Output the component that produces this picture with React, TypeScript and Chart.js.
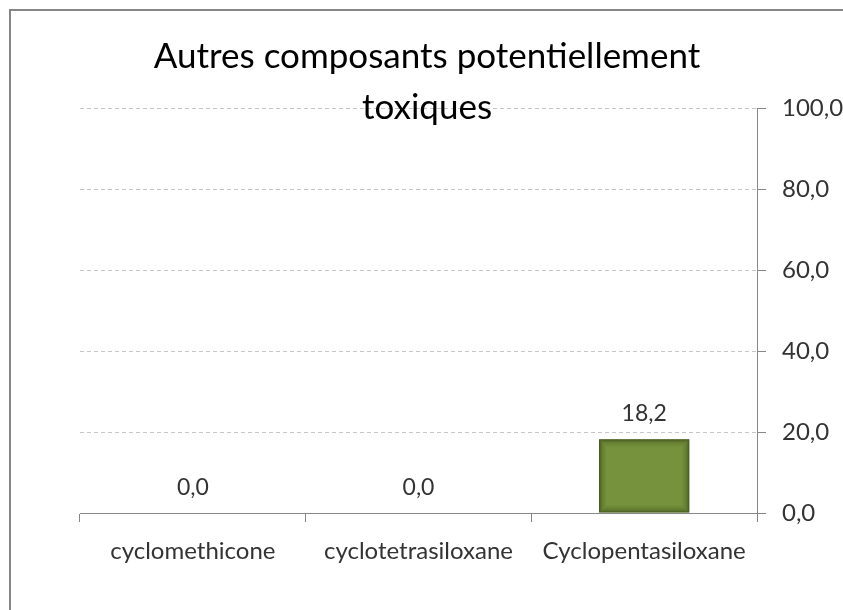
import React, { useEffect, useRef } from 'react';
import { Chart, registerables } from 'chart.js';

Chart.register(...registerables);

const categories = ['cyclomethicone', 'cyclotetrasiloxane', 'Cyclopentasiloxane'];
const values = [0.0, 0.0, 18.2];
const yMin = 0;
const yMax = 100;
const yStep = 20;
const titleLines = ['Autres composants potentiellement', 'toxiques'];

const FONT = 'Lato, "Open Sans", sans-serif';
const fmt = (v: number) => v.toFixed(1).replace('.', ',');

const titlePlugin = {
  id: 'overlayTitle',
  afterDraw(chart: any) {
    const ctx = chart.ctx;
    ctx.save();
    ctx.fillStyle = '#000';
    ctx.font = `35px ${FONT}`;
    ctx.textAlign = 'center';
    ctx.textBaseline = 'alphabetic';
    const cx = chart.width / 2;
    ctx.fillText(titleLines[0], cx, 57);
    ctx.fillText(titleLines[1], cx, 108);
    ctx.restore();
  },
};

const barDecorPlugin = {
  id: 'barDecor',
  afterDatasetsDraw(chart: any) {
    const ctx = chart.ctx;
    const meta = chart.getDatasetMeta(0);
    ctx.save();
    meta.data.forEach((bar: any, i: number) => {
      const { x, y, base, width } = bar.getProps(['x', 'y', 'base', 'width'], true);
      const left = x - width / 2;
      const top = Math.min(y, base);
      const h = Math.abs(base - y);
      if (h > 2) {
        for (let k = 0; k < 7; k++) {
          const a = 0.55 * Math.pow(0.68, k);
          ctx.strokeStyle = `rgba(30,40,10,${a})`;
          ctx.lineWidth = 1;
          ctx.strokeRect(left + k + 0.5, top + k + 0.5, width - 2 * k - 1, h - 2 * k - 1);
        }
      }
      ctx.fillStyle = '#333';
      ctx.font = `23px ${FONT}`;
      ctx.textAlign = 'center';
      ctx.textBaseline = 'alphabetic';
      ctx.fillText(fmt(values[i]), x, y - 18);
    });
    ctx.restore();
  },
};

export default function App() {
  const ref = useRef<HTMLCanvasElement | null>(null);
  useEffect(() => {
    if (!ref.current) return;
    const chart = new Chart(ref.current, {
      type: 'bar',
      data: {
        labels: categories,
        datasets: [
          {
            data: values,
            backgroundColor: '#76923c',
            borderWidth: 0,
            categoryPercentage: 1,
            barPercentage: 0.4,
          },
        ],
      },
      options: {
        animation: false,
        responsive: false,
        layout: { padding: { left: 69, top: 97, right: 0, bottom: 0 } },
        plugins: {
          legend: { display: false },
          title: { display: false },
          tooltip: { enabled: false },
        },
        scales: {
          x: {
            position: 'bottom',
            grid: {
              display: true,
              drawOnChartArea: false,
              offset: true,
              tickLength: 9,
              tickColor: '#878787',
            },
            border: { display: true, color: '#878787', width: 1 },
            ticks: {
              color: '#333',
              font: { family: FONT, size: 24 },
              padding: 15,
              maxRotation: 0,
            },
            afterFit: (s: any) => {
              s.height = 97;
            },
          },
          y: {
            position: 'right',
            min: yMin,
            max: yMax,
            ticks: {
              stepSize: yStep,
              color: '#333',
              font: { family: FONT, size: 24 },
              padding: 16,
              callback: (v: any) => fmt(Number(v)),
            },
            grid: {
              color: '#c6c6c6',
              tickLength: 9,
              tickColor: '#878787',
              tickBorderDash: [],
            },
            border: { display: true, color: '#878787', width: 1, dash: [4, 3] },
            afterFit: (s: any) => {
              s.width = 86;
            },
          },
        },
      },
      plugins: [barDecorPlugin, titlePlugin],
    });
    return () => chart.destroy();
  }, []);

  return (
    <div
      style={{
        position: 'absolute',
        left: 9,
        top: 9,
        borderTop: '2px solid #878787',
        borderLeft: '2px solid #878787',
        background: '#fff',
      }}
    >
      <canvas ref={ref} width={832} height={599} style={{ display: 'block', width: 832, height: 599 }} />
    </div>
  );
}
